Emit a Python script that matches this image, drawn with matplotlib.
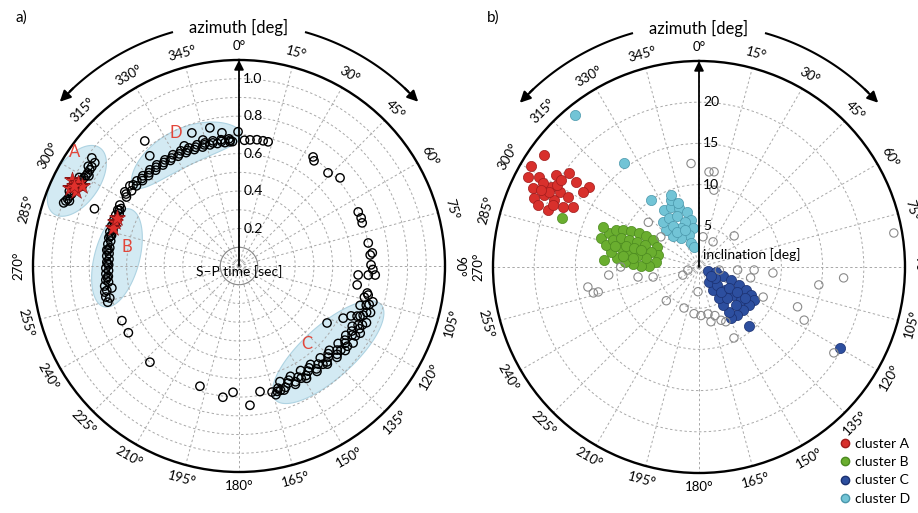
import numpy as np
import matplotlib.pyplot as plt
from matplotlib.lines import Line2D

plt.rcParams['font.family'] = ['Lato', 'DejaVu Sans']

# ---- panel a: S-P time [s] against azimuth [deg] ----
a_theta_A = [306.3, 305.6, 304.0, 302.8, 301.6, 300.5, 299.6, 298.4, 297.6, 296.4,
             295.6, 294.4, 293.3, 292.5, 291.4, 290.6, 289.8, 303.5, 299.0, 296.0,
             293.8, 291.0, 301.0, 297.0]
a_r_A = [0.975, 0.947, 0.948, 0.948, 0.948, 0.949, 0.953, 0.955, 0.959, 0.961,
         0.966, 0.969, 0.973, 0.978, 0.982, 0.988, 0.995, 0.965, 0.975, 0.985,
         0.990, 0.970, 0.935, 0.940]

a_theta_B = [297.1, 294.8, 292.5, 290.2, 287.5, 284.8, 282.2, 279.5, 276.9, 274.3,
             271.7, 269.1, 266.6, 264.0, 261.5, 259.0, 256.9, 256.1, 254.6, 260.2,
             296.0, 293.5, 291.0, 288.5, 286.0, 283.5, 281.0, 278.0, 275.5, 273.0,
             270.5, 268.0, 265.5, 263.0,
             295.0, 289.0, 283.0, 277.0, 271.0, 265.0, 259.5]
a_r_B = [0.715, 0.713, 0.712, 0.712, 0.712, 0.713, 0.711, 0.710, 0.711, 0.708,
         0.706, 0.711, 0.712, 0.715, 0.725, 0.730, 0.730, 0.711, 0.727, 0.689,
         0.700, 0.698, 0.697, 0.698, 0.700, 0.700, 0.698, 0.697, 0.697, 0.695,
         0.696, 0.697, 0.700, 0.702,
         0.705, 0.705, 0.706, 0.704, 0.701, 0.706, 0.718]

a_theta_D = [303.0, 306.3, 309.8, 313.2, 317.2, 320.9, 325.1, 329.3, 333.2, 337.0,
             340.9, 344.5, 348.2, 351.9, 355.5,
             301.5, 305.0, 308.0, 311.5, 315.0, 319.0, 323.0, 327.0, 331.0, 335.0,
             339.0, 343.0, 346.5, 350.0, 353.5, 357.0,
             302.5, 307.5, 312.0, 316.0, 320.0, 324.0, 328.0, 332.0, 336.0, 340.0,
             344.0, 348.0, 352.0, 356.0,
             348.1, 340.5, 352.7, 355.8, 359.6, 323.0, 321.0, 335.5, 344.0]
a_r_D = [0.727, 0.723, 0.710, 0.704, 0.700, 0.696, 0.691, 0.691, 0.689, 0.685,
         0.685, 0.682, 0.683, 0.681, 0.681,
         0.705, 0.700, 0.695, 0.688, 0.683, 0.678, 0.675, 0.672, 0.670, 0.668,
         0.666, 0.664, 0.665, 0.664, 0.663, 0.665,
         0.715, 0.712, 0.698, 0.692, 0.688, 0.683, 0.680, 0.678, 0.676, 0.675,
         0.673, 0.672, 0.672, 0.673,
         0.754, 0.754, 0.717, 0.665, 0.717, 0.836, 0.757, 0.705, 0.700]

a_theta_C = [102.7, 107.1, 111.6, 116.4, 121.4, 126.0, 130.6, 135.6, 141.1, 146.7,
             152.0, 157.3, 162.3, 165.3,
             105.0, 109.5, 114.0, 119.0, 124.0, 128.5, 133.0, 138.0, 143.5, 149.0,
             154.5, 160.0, 164.0,
             108.0, 113.0, 118.0, 123.0, 128.0, 133.0, 138.5, 144.0, 149.5, 155.0, 160.5,
             110.0, 115.5, 121.0, 126.5, 132.0, 137.5, 143.0, 148.5, 154.0, 159.0, 163.0,
             104.0, 106.5, 112.5, 117.5, 120.0, 125.0, 129.5, 134.5, 139.5, 145.5,
             151.0, 156.5, 161.5,
             122.9, 116.6, 114.0]
a_r_C = [0.707, 0.711, 0.713, 0.710, 0.708, 0.701, 0.690, 0.681, 0.673, 0.672,
         0.672, 0.678, 0.685, 0.696,
         0.740, 0.745, 0.745, 0.740, 0.735, 0.725, 0.715, 0.705, 0.700, 0.700,
         0.700, 0.705, 0.715,
         0.680, 0.685, 0.685, 0.680, 0.672, 0.660, 0.655, 0.650, 0.648, 0.650, 0.655,
         0.725, 0.730, 0.725, 0.720, 0.705, 0.695, 0.688, 0.686, 0.688, 0.694, 0.700,
         0.690, 0.725, 0.700, 0.725, 0.695, 0.690, 0.705, 0.668, 0.690, 0.660,
         0.685, 0.665, 0.700,
         0.560, 0.622, 0.655]

# events outside the four groups
a_theta_other = [34.2, 35.5, 43.7, 48.9, 65.6, 68.5, 70.7, 79.9, 84.4, 85.2,
                 94.3, 94.0, 93.8, 99.1, 101.9, 89.5, 91.5, 5.0, 8.1, 10.9,
                 13.2, 2.5, 198.0, 187.0, 182.7, 175.5, 170.5, 222.8, 245.0, 238.9,
                 291.6]
a_r_other = [0.704, 0.690, 0.688, 0.716, 0.699, 0.701, 0.697, 0.701, 0.715, 0.703,
             0.638, 0.692, 0.729, 0.639, 0.700, 0.705, 0.715, 0.676, 0.681, 0.681,
             0.681, 0.672, 0.675, 0.706, 0.675, 0.746, 0.680, 0.700, 0.690, 0.690,
             0.830]

# master events (red stars)
star_theta = [297.2, 297.3, 294.8, 294.7, 297.0, 295.8, 289.5, 286.8, 291.5]
star_r = [1.004, 0.969, 0.995, 0.959, 0.942, 0.980, 0.704, 0.704, 0.701]

# ---- panel b: inclination [deg] against azimuth [deg] ----
b_theta_A = [305.9, 301.0, 297.8, 299.4, 302.8, 305.7, 304.6, 306.0, 302.9, 295.5,
             292.7, 291.0, 290.7, 294.8, 298.4, 298.2, 294.9, 298.1, 293.8, 298.3,
             295.4, 296.6, 300.0, 295.9, 293.0, 302.2]
b_r_A = [23.2, 23.8, 23.4, 22.3, 20.6, 19.5, 18.1, 16.5, 16.7, 16.9,
         21.7, 20.9, 19.6, 19.4, 20.4, 19.2, 20.7, 18.0, 18.0, 21.5,
         22.3, 20.3, 19.9, 21.3, 19.2, 19.8]

b_theta_B = [286.5, 290.7, 294.0, 296.0, 297.9, 299.5, 300.3, 300.4, 295.5, 286.3,
             276.6, 271.1, 271.0, 272.6, 273.9, 276.3, 279.7, 283.3, 287.4, 290.4,
             291.1, 292.0, 292.2, 287.4, 279.6, 280.1, 282.1, 283.7, 284.0, 286.1,
             286.3, 286.3, 277.8, 278.2, 289.5, 292.6, 274.2]
b_r_B = [12.4, 11.7, 11.0, 10.2, 9.3, 8.4, 7.4, 6.5, 5.6, 5.2,
         5.2, 6.1, 7.0, 8.0, 9.0, 10.0, 10.8, 11.6, 10.9, 10.1,
         9.1, 8.1, 7.1, 6.1, 6.5, 7.6, 8.7, 9.7, 10.5, 9.2,
         8.2, 7.3, 8.1, 9.3, 17.7, 12.6, 11.5]

b_theta_C = [114.0, 106.4, 110.6, 112.1, 114.2, 116.1, 118.3, 121.0, 127.2, 134.3,
             141.6, 147.9, 146.3, 147.7, 147.2, 148.7, 146.3, 135.0, 131.5, 129.5,
             128.2, 135.8, 137.9, 138.7, 125.0, 123.3, 124.0, 124.5, 126.9, 139.7,
             119.9]
b_r_C = [1.2, 2.1, 3.1, 4.2, 5.3, 6.3, 7.2, 7.8, 7.6, 7.5,
         7.4, 7.3, 6.6, 5.4, 4.5, 3.3, 2.2, 3.1, 4.2, 5.3,
         6.5, 6.4, 5.1, 4.0, 4.4, 5.5, 6.7, 2.4, 1.8, 9.4,
         19.7]

b_theta_D = [328.4, 335.0, 341.3, 347.7, 350.3, 351.3, 342.6, 328.2, 320.0, 318.3,
             321.3, 328.5, 336.7, 342.7, 335.2, 327.6, 327.8, 339.3, 341.6, 346.0,
             337.3, 341.8, 338.7, 324.4, 324.2, 320.6]
b_r_D = [8.1, 8.0, 7.6, 6.8, 5.8, 4.8, 4.1, 4.1, 4.9, 6.0,
         7.0, 7.0, 6.7, 5.7, 5.2, 5.9, 5.0, 4.8, 3.1, 2.5,
         8.8, 8.2, 9.4, 10.0, 15.5, 23.8]

b_theta_other = [355.6, 6.0, 9.0, 11.0, 48.5, 80.1, 311.4, 308.3, 29.2, 7.6,
                 259.8, 256.1, 256.2, 264.9, 270.0, 260.7, 257.7, 243.4, 254.7, 182.3,
                 224.1, 200.1, 186.1, 177.7, 169.2, 161.9, 157.5, 153.8, 93.1, 94.6,
                 112.0, 116.8, 98.5, 94.3, 122.5, 115.1, 98.5, 101.9, 94.4, 153.9,
                 167.7]
b_r_other = [12.6, 11.6, 11.7, 9.5, 5.7, 24.0, 8.2, 5.9, 3.5, 3.7,
             13.7, 12.6, 13.2, 11.0, 9.5, 7.5, 5.7, 2.2, 1.4, 3.0,
             5.7, 5.3, 5.7, 5.9, 5.8, 6.2, 7.0, 9.6, 6.7, 9.0,
             12.9, 14.3, 14.7, 17.6, 19.4, 8.6, 2.5, 6.4, 4.7, 7.4,
             6.8]

cluster_names = ['cluster A', 'cluster B', 'cluster C', 'cluster D']
cluster_face = ['#d8302c', '#6aae2f', '#2d4f9f', '#72c4d6']
cluster_edge = ['#a01c1c', '#4c8a20', '#1b3070', '#4a97ab']


def label_rotation(t):
    if t <= 90:
        return -t
    if t < 270:
        return 180 - t
    return 360 - t


def setup_polar(ax, rmax, rticks, rlabels, rname, name_offset, name_ha):
    ax.set_theta_zero_location('N')
    ax.set_theta_direction(-1)
    ax.set_ylim(0, rmax)
    ax.set_xticks(np.deg2rad(np.arange(0, 360, 15)))
    ax.set_xticklabels([])
    ax.set_yticks(rticks)
    ax.set_yticklabels([])
    ax.grid(True, color='#a8a8a8', linestyle=(0, (2.5, 2.5)), linewidth=0.7)
    ax.spines['polar'].set_linewidth(1.7)

    for t in range(0, 360, 15):
        ax.text(np.deg2rad(t), rmax * 1.07, f'{t}°', rotation=label_rotation(t),
                rotation_mode='anchor', ha='center', va='center', fontsize=9.5,
                clip_on=False)

    # radial axis arrow with its labels
    ax.annotate('', xy=(0, rmax), xytext=(0, 0),
                arrowprops=dict(arrowstyle='-|>', color='k', lw=1.3,
                                mutation_scale=14, shrinkA=0, shrinkB=0),
                zorder=6)
    for v, s in rlabels:
        ax.annotate(s, xy=(0, v), xytext=(3, 0), textcoords='offset points',
                    ha='left', va='center', fontsize=10, zorder=6)
    ax.annotate(rname, xy=(0, 0), xytext=name_offset, textcoords='offset points',
                ha=name_ha, va='center', fontsize=10, zorder=6)

    # azimuth arrows around the top
    r_arc = rmax * 1.18
    arc = np.deg2rad(np.linspace(16, 44, 60))
    for sgn in (1, -1):
        ax.plot(sgn * arc, np.full_like(arc, r_arc), color='k', lw=1.5, clip_on=False)
        ax.annotate('', xy=(sgn * np.deg2rad(47.5), r_arc),
                    xytext=(sgn * np.deg2rad(43), r_arc),
                    arrowprops=dict(arrowstyle='-|>', color='k', lw=1.5,
                                    mutation_scale=16, shrinkA=0, shrinkB=0),
                    annotation_clip=False)
    ax.text(0, rmax * 1.16, 'azimuth [deg]', ha='center', va='center',
            fontsize=12, clip_on=False)


def shade_ellipse(ax, theta_c, r_c, width, height, angle):
    t = np.linspace(0, 2 * np.pi, 120)
    a = np.deg2rad(angle)
    u = width / 2 * np.cos(t)
    v = height / 2 * np.sin(t)
    x = r_c * np.sin(np.deg2rad(theta_c)) + u * np.cos(a) - v * np.sin(a)
    y = r_c * np.cos(np.deg2rad(theta_c)) + u * np.sin(a) + v * np.cos(a)
    ax.fill(np.arctan2(x, y), np.hypot(x, y), facecolor='#d3eaf3',
            edgecolor='#aed3e2', lw=0.8, zorder=1)


fig = plt.figure(figsize=(9.18, 5.13), dpi=100)
ax_a = fig.add_axes([33 / 918, 41 / 513, 412 / 918, 412 / 513], projection='polar')
ax_b = fig.add_axes([493 / 918, 40 / 513, 412 / 918, 412 / 513], projection='polar')

# panel a
setup_polar(ax_a, 1.1, np.arange(0.1, 1.05, 0.1),
            [(0.2, '0.2'), (0.4, '0.4'), (0.6, '0.6'), (0.8, '0.8'), (1.0, '1.0')],
            'S\u2013P time [sec]', (0, -4), 'center')
ax_a.plot(np.linspace(0, 2 * np.pi, 200), np.full(200, 0.1), color='#8c8c8c', lw=0.8)

shade_ellipse(ax_a, 297.7, 0.978, 0.43, 0.24, 55)
shade_ellipse(ax_a, 273.8, 0.653, 0.54, 0.24, 75)
shade_ellipse(ax_a, 134.0, 0.662, 0.76, 0.28, 42)
tb = np.linspace(0, 2 * np.pi, 120)
ax_a.fill(np.deg2rad(334 + 27 * np.cos(tb)), 0.70 + 0.10 * np.sin(tb),
          facecolor='#d3eaf3', edgecolor='#aed3e2', lw=0.8, zorder=1)

for th, rr in [(a_theta_A, a_r_A), (a_theta_B, a_r_B), (a_theta_D, a_r_D),
               (a_theta_C, a_r_C), (a_theta_other, a_r_other)]:
    ax_a.scatter(np.deg2rad(th), rr, s=36, facecolors='none', edgecolors='k',
                 linewidths=1.0, zorder=3, clip_on=False)
ax_a.scatter(np.deg2rad(star_theta), star_r, marker='*', s=150, color='#e0302c',
             edgecolors='#8a1414', linewidths=0.4, zorder=4)

for name, th, rr in [('A', 304.8, 1.068), ('B', 279.6, 0.607),
                     ('C', 138.9, 0.553), ('D', 334.7, 0.787)]:
    ax_a.text(np.deg2rad(th), rr, name, color='#e2463a', fontsize=12,
              ha='center', va='center', zorder=5)

# panel b
setup_polar(ax_b, 25, np.arange(5, 21, 5),
            [(5, '5'), (10, '10'), (15, '15'), (20, '20')],
            'inclination [deg]', (3, 9), 'left')

for th, rr, fc, ec in zip([b_theta_A, b_theta_B, b_theta_C, b_theta_D],
                          [b_r_A, b_r_B, b_r_C, b_r_D], cluster_face, cluster_edge):
    ax_b.scatter(np.deg2rad(th), rr, s=54, facecolors=fc, edgecolors=ec,
                 linewidths=0.5, zorder=3)
ax_b.scatter(np.deg2rad(b_theta_other), b_r_other, s=36, facecolors='none',
             edgecolors='#8a8a8a', linewidths=0.8, zorder=4)

handles = [Line2D([], [], ls='none', marker='o', markersize=6, markerfacecolor=fc,
                  markeredgecolor=ec, markeredgewidth=1.0)
           for fc, ec in zip(cluster_face, cluster_edge)]
fig.legend(handles, cluster_names, loc='lower right', bbox_to_anchor=(1.0, 0.0),
           frameon=False, fontsize=10, handlelength=0.8, handletextpad=0.3,
           labelspacing=0.45, borderaxespad=0.2)

fig.text(15 / 918, 1 - 18 / 513, 'a)', fontsize=11, va='center')
fig.text(487 / 918, 1 - 18 / 513, 'b)', fontsize=11, va='center')

fig.savefig('out.png', dpi=100)
